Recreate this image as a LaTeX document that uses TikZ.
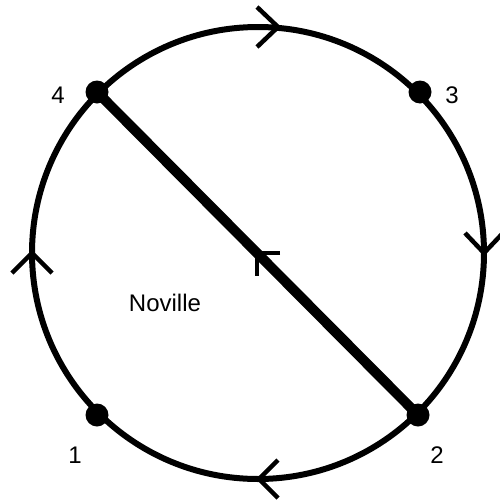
\documentclass[tikz,border=0pt]{standalone}
\usepackage{fontspec}
\setmainfont{Liberation Sans}
\begin{document}
\begin{tikzpicture}[x=1pt,y=-1pt,
  vdot/.style={circle,fill=black,inner sep=0pt,minimum size=23pt},
  lbl/.style={font=\fontsize{24}{28}\selectfont,inner sep=0pt},
  ring/.style={line width=6pt},
  chord/.style={line width=10pt},
  chev/.style={line width=4.5pt}]
\useasboundingbox (0,0) rectangle (499,501);
\coordinate (c) at (258,253);
\draw[ring] (c) circle (226pt);
\node[vdot] (n4) at (97,92) {};
\node[vdot] (n3) at (420,92) {};
\node[vdot] (n2) at (418,415) {};
\node[vdot] (n1) at (97,415) {};
\draw[chord] (n4.center) -- (n2.center);
% direction chevrons
\coordinate (tT) at (278,27);
\coordinate (tR) at (484,253);
\coordinate (tB) at (259,479);
\coordinate (tL) at (32,253);
\draw[chev] (257,7) -- (tT) -- (257,47);
\draw[chev] (465,233) -- (tR) -- (503,233);
\draw[chev] (278,460) -- (tB) -- (278,498);
\draw[chev] (12,273) -- (tL) -- (52,273);
% center mark
\coordinate (m) at (257,253);
\draw[chev] (280,253) -- (m) -- (257,276);
% labels
\node[lbl] (l4) at (58,95) {4};
\node[lbl] (l3) at (452,95) {3};
\node[lbl] (l1) at (75,455) {1};
\node[lbl] (l2) at (437,455) {2};
\node[lbl] (nv) at (165,303) {Noville};
\end{tikzpicture}
\end{document}
